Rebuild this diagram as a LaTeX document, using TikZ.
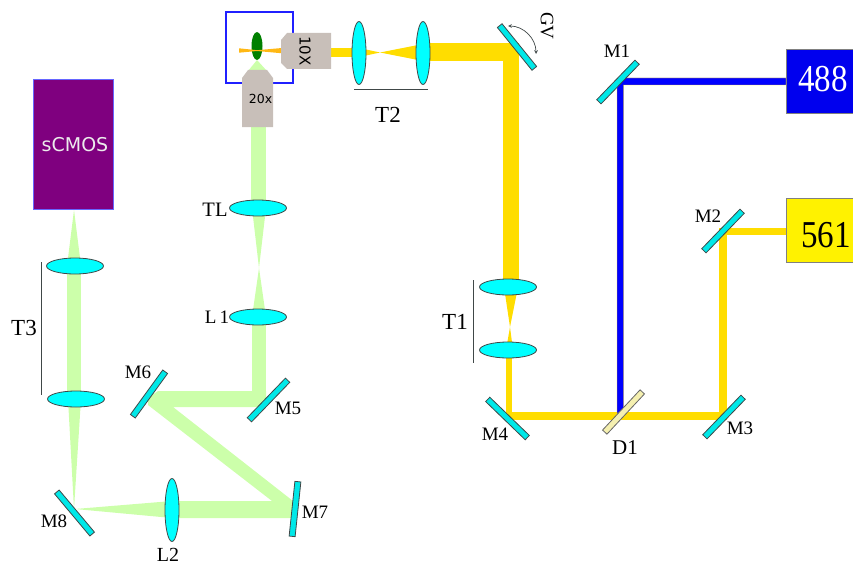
\documentclass[tikz,border=0pt]{standalone}
\usepackage{fontspec}
\setmainfont{Liberation Serif}
\newfontfamily\objfont{DejaVu Sans}
\usetikzlibrary{shapes.geometric}
\definecolor{beamyellow}{HTML}{FFDD00}
\definecolor{beamgreen}{HTML}{CCFFAA}
\definecolor{beamorange}{HTML}{FFB814}
\definecolor{lenscyan}{HTML}{00FFFF}
\definecolor{optcyan}{HTML}{00E8E8}
\definecolor{objgrey}{HTML}{C8BFB9}
\definecolor{edgegrey}{HTML}{404848}
\definecolor{campurple}{HTML}{7F007F}
\definecolor{boxblue}{HTML}{2020FF}
\definecolor{laserblue}{HTML}{0000EE}
\definecolor{dichroic}{HTML}{F5F0B0}
\tikzset{
  lensh/.style={ellipse,draw=edgegrey,fill=lenscyan,line width=0.8pt,inner sep=0pt,minimum width=57pt,minimum height=16pt},
  lensv/.style={ellipse,draw=edgegrey,fill=lenscyan,line width=0.8pt,inner sep=0pt,minimum width=14pt,minimum height=63pt},
  mirror/.style={rectangle,draw=edgegrey,fill=optcyan,line width=0.8pt,inner sep=0pt,minimum width=55pt,minimum height=6pt},
  laser/.style={rectangle,draw=gray,line width=0.8pt,inner sep=0pt,minimum width=74pt,minimum height=64pt},
  power/.style={inner sep=0pt,xscale=0.87,font=\fontsize{38}{40}\selectfont},
  lbl/.style={inner sep=0pt,font=\fontsize{23}{25}\selectfont},
  mlbl/.style={inner sep=0pt,font=\fontsize{19}{21}\selectfont},
  bracket/.style={draw=edgegrey,line width=0.9pt},
}
\begin{document}
\begin{tikzpicture}[x=1pt,y=-1pt]
    \useasboundingbox (0,0) rectangle (853,567);

    % green path
    \fill[beamgreen] (257,60)--(248,71)--(267,71)--cycle;
    \fill[beamgreen] (251,127) rectangle (266,208);
    \fill[beamgreen] (252,208)--(266,208)--(259,268)--(252,317)--(266,317)--(259,268)--cycle;
    \fill[beamgreen] (252,317) rectangle (266,400);
    \fill[beamgreen] (158,391)--(266,391)--(266,400)--(258,407)--(173,407)--(293,501)--(293,518)--(172,518)--(172,501)--(272,501)--(148,405)--(148,398)--cycle;
    \fill[beamgreen] (172,501)--(172,518)--(75,509)--cycle;
    \fill[beamgreen] (68,399)--(81,399)--(74,509)--cycle;
    \fill[beamgreen] (67,266) rectangle (81,399);
    \fill[beamgreen] (67,266)--(81,266)--(74,210)--cycle;

    % yellow path
    \fill[beamyellow] (331,48) rectangle (359,57);
    \fill[beamyellow] (359,48)--(359,57)--(380,52.5)--(423,61)--(423,44)--(380,52.5)--cycle;
    \fill[beamyellow] (423,43) rectangle (519,61);
    \fill[beamyellow] (503,43) rectangle (519,287);
    \fill[beamyellow] (504,287)--(518,287)--(510,327)--(506,350)--(513,350)--(510,327)--cycle;
    \fill[beamyellow] (506,350) rectangle (512,420);
    \fill[beamyellow] (506,412) rectangle (727,420);
    \fill[beamyellow] (719,228) rectangle (727,420);
    \fill[beamyellow] (719,228) rectangle (786,235);
    \draw[fill=blue,draw=beamyellow,line width=0.4pt] (617,85)--(617,413)--(623.5,413)--(623.5,85)--(786,85)--(786,78)--(624,78)--cycle;

    % sample and objectives
    \fill[green!50!black] (257,46) ellipse (5.5 and 14);
    \fill[beamorange] (239,48.3)--(257,50.2)--(282,48)--(282,53.3)--(257,51)--(239,52.7)--cycle;
    \draw[boxblue,line width=2pt] (226,12) rectangle (293,83);
    \fill[objgrey] (281,40)--(287,33)--(331,33)--(331,69)--(287,69)--(281,63)--cycle;
    \fill[objgrey] (242,78)--(248,70)--(267,70)--(273,78)--(273,127)--(242,127)--cycle;
    \node[inner sep=0pt,rotate=-90,font=\objfont\fontsize{15}{17}\selectfont] (obj10) at (305,51) {10X};
    \node[inner sep=0pt,font=\objfont\fontsize{12.5}{14}\selectfont] (obj20) at (260.5,99) {20x};

    % lenses
    \node[lensv] (t2a) at (359,53) {};
    \node[lensv] (t2b) at (423,53) {};
    \node[lensv] (l2) at (172,510) {};
    \node[lensh] (t1a) at (508,287) {};
    \node[lensh] (t1b) at (508,350) {};
    \node[lensh] (tl) at (258,208) {};
    \node[lensh] (l1) at (258,317) {};
    \node[lensh] (t3a) at (75,266) {};
    \node[lensh] (t3b) at (76,399) {};

    % mirrors
    \node[mirror,rotate=-51] (gv) at (517,47) {};
    \node[mirror,rotate=46] (m1) at (618,82) {};
    \node[mirror,rotate=46] (m2) at (723,231) {};
    \node[mirror,rotate=46] (m3) at (724,417) {};
    \node[mirror,rotate=-44] (m4) at (507.5,418.5) {};
    \node[mirror,rotate=46] (m5) at (268.5,400) {};
    \node[mirror,rotate=54] (m6) at (149,394) {};
    \node[mirror,rotate=84] (m7) at (295,509) {};
    \node[mirror,rotate=-50] (m8) at (74.5,513) {};
    \node[mirror,rotate=47,fill=dichroic,draw=gray!80!black] (d1) at (623.5,412) {};

    \coordinate (gva) at (508,26);
    \coordinate (gvb) at (536,54);
    \draw[stealth-stealth,edgegrey,line width=0.7pt] (gva) to[bend left=45] (gvb);

    % brackets
    \coordinate (t2l) at (354,89);
    \coordinate (t2r) at (428,89);
    \coordinate (t1t) at (473,280);
    \coordinate (t1d) at (473,363);
    \coordinate (t3t) at (41,262);
    \coordinate (t3d) at (41,395);
    \draw[bracket] (t2l)--(t2r);
    \draw[bracket] (t1t)--(t1d);
    \draw[bracket] (t3t)--(t3d);

    % sources and camera
    \node[laser,fill=laserblue] (l488) at (823,81) {};
    \node[laser,fill=yellow] (l561) at (823,230) {};
    \node[power,text=white] (t488) at (823,79) {488};
    \node[power] (t561) at (826,235) {561};
    \node[rectangle,draw=blue!60!white,fill=campurple,line width=0.6pt,minimum width=80pt,minimum height=130pt,inner sep=0pt] (cam) at (73,144) {};
    \node[inner sep=0pt,text=white!85!gray,font=\objfont\fontsize{19}{21}\selectfont] (camtxt) at (75,145) {sCMOS};

    % labels
    \node[lbl] (lt2) at (388,115) {T2};
    \node[lbl] (lt1) at (455,322) {T1};
    \node[lbl] (lt3) at (24,328) {T3};
    \node[mlbl,font=\fontsize{20.5}{22}\selectfont] (ltl) at (215,210) {TL};
    \node[mlbl] (ll1) at (217,317) {L\,1};
    \node[mlbl,font=\fontsize{20}{22}\selectfont] (ll2) at (168,555) {L2};
    \node[mlbl,font=\fontsize{21}{23}\selectfont] (ld1) at (625,448) {D1};
    \node[mlbl] (lm1) at (617,51) {M1};
    \node[mlbl] (lm2) at (708,216) {M2};
    \node[mlbl] (lm3) at (740,428) {M3};
    \node[mlbl] (lm4) at (495,434) {M4};
    \node[mlbl] (lm5) at (288,408) {M5};
    \node[mlbl] (lm6) at (138,372) {M6};
    \node[mlbl] (lm7) at (315,512) {M7};
    \node[mlbl] (lm8) at (54,521) {M8};
    \node[mlbl,rotate=-90] (lgv) at (547,26) {GV};
\end{tikzpicture}
\end{document}
